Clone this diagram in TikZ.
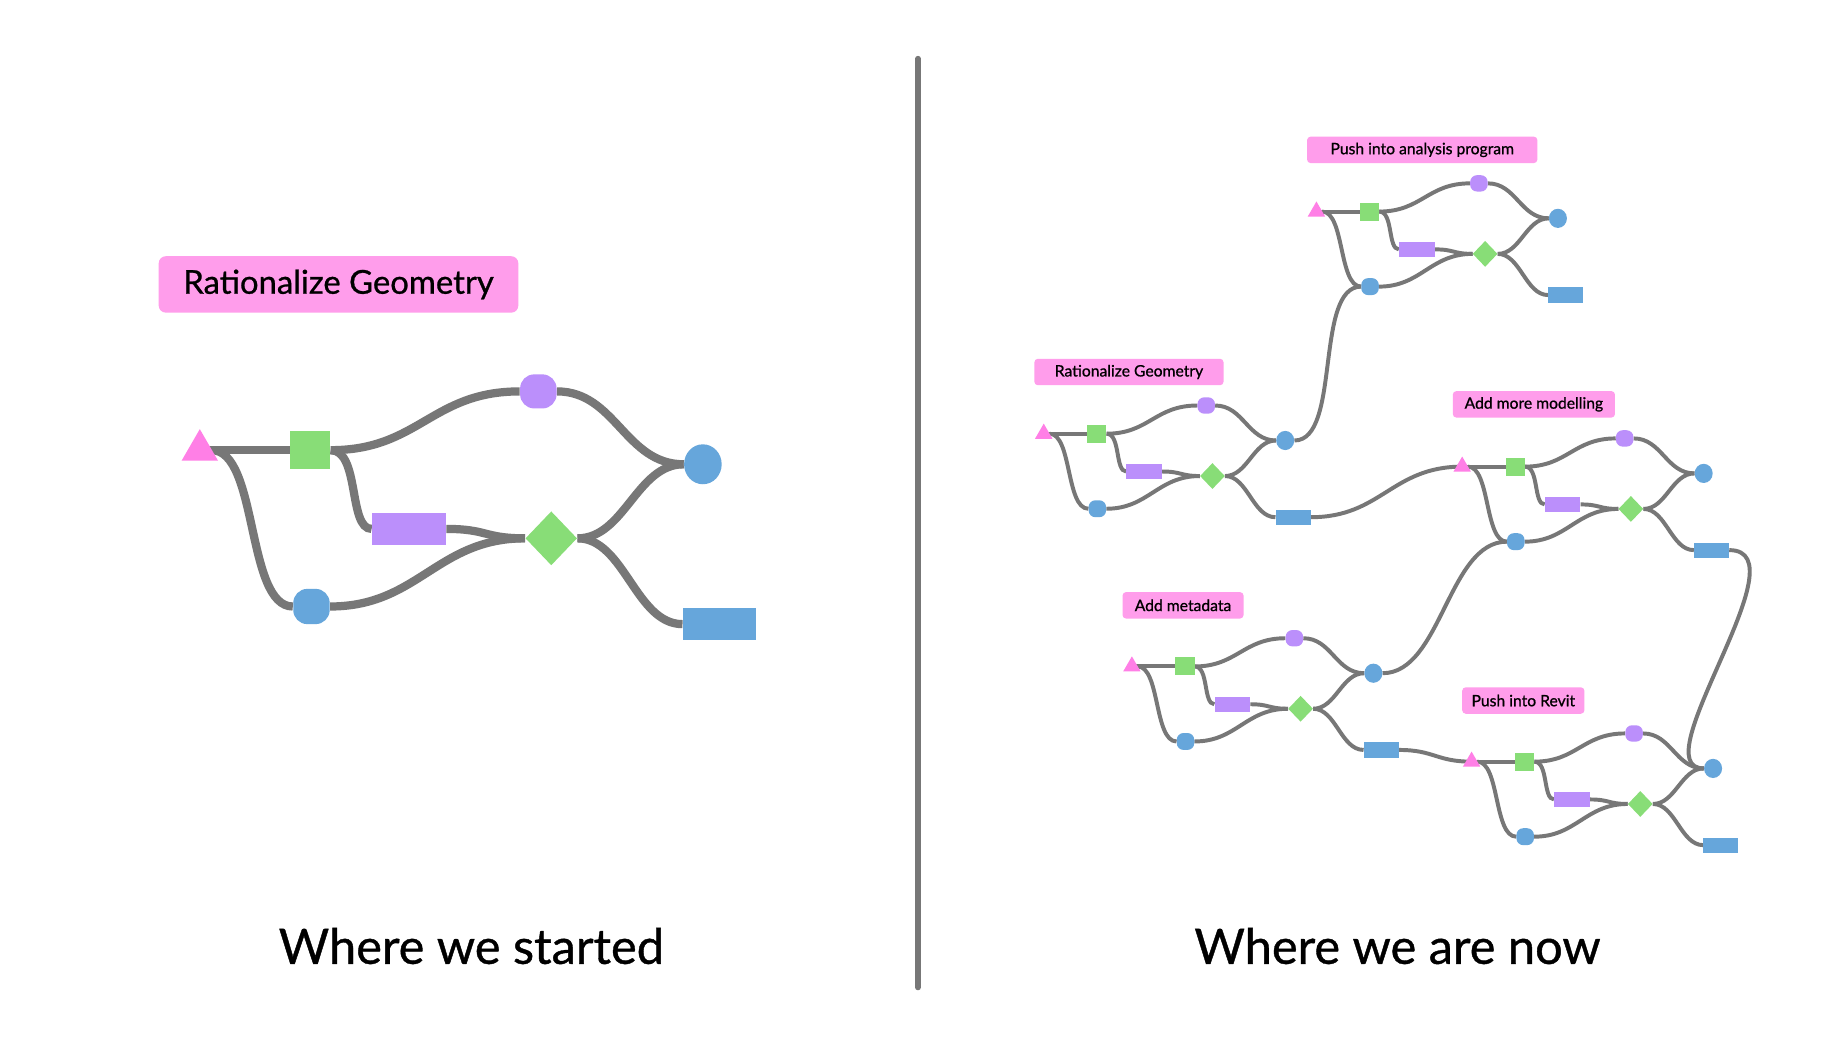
\documentclass[tikz,border=0pt]{standalone}
\usepackage{fontspec}
\setmainfont{Lato}[FakeBold=0.8]
\usetikzlibrary{shapes.geometric}
\definecolor{wirec}{HTML}{777777}
\definecolor{pinkc}{HTML}{FF9DEB}
\definecolor{tric}{HTML}{FF7FE6}
\definecolor{greenc}{HTML}{88DD77}
\definecolor{purplec}{HTML}{BB8FFB}
\definecolor{bluec}{HTML}{66A6DB}
\pgfdeclarelayer{bg}
\pgfdeclarelayer{edges}
\pgfsetlayers{bg,edges,main}
\tikzset{
  wire/.style={draw=wirec},
  tri/.style={regular polygon, regular polygon sides=3, fill=tric, minimum size=0.716cm, inner sep=0pt, outer sep=0pt},
  sqn/.style={rectangle, fill=greenc, minimum width=0.68cm, minimum height=0.64cm, inner sep=0pt},
  ptop/.style={rectangle, fill=purplec, minimum width=0.62cm, minimum height=0.58cm, inner sep=0pt},
  circn/.style={ellipse, fill=bluec, minimum width=0.64cm, minimum height=0.68cm, inner sep=0pt},
  prect/.style={rectangle, fill=purplec, minimum width=1.26cm, minimum height=0.54cm, inner sep=0pt},
  dian/.style={diamond, fill=greenc, minimum width=0.88cm, minimum height=0.92cm, inner sep=0pt},
  bblue/.style={rectangle, fill=bluec, minimum width=0.62cm, minimum height=0.60cm, inner sep=0pt},
  brect/.style={rectangle, fill=bluec, minimum width=1.24cm, minimum height=0.54cm, inner sep=0pt},
  biglabel/.style={fill=pinkc, rounded corners=0.12cm, minimum width=6.12cm, minimum height=0.96cm, inner sep=0pt, font=\fontsize{15.9}{18}\selectfont},
  smalllabel/.style={fill=pinkc, rounded corners=0.06cm, minimum height=0.45cm, inner sep=0pt, font=\fontsize{7.6}{9}\selectfont},
  titletext/.style={anchor=base, inner sep=0pt, font=\fontsize{23.6}{28}\selectfont},
}
\newcommand{\flowgraph}[4]{%
\pgfmathsetlengthmacro{\flowrc}{#4*0.24cm}%
\begin{scope}[shift={(#2,#3)}, scale=#4, transform shape, name prefix=#1-]
  \node[tri] (t) at (0,0) {};
  \node[sqn] (s) at (94,0) {};
  \node[ptop, rounded corners=\flowrc] (p) at (288,-50) {};
  \node[circn] (c) at (428,12) {};
  \node[prect] (r) at (178,67) {};
  \node[dian] (d) at (299,75) {};
  \node[bblue, rounded corners=\flowrc] (b) at (95,133) {};
  \node[brect] (q) at (442,148) {};
  \begin{pgfonlayer}{edges}
    \draw[wire, line width=#4*0.14cm] (t.center) -- (s.center);
    \draw[wire, line width=#4*0.14cm] (t.center) ++(10,0) .. controls +(40,0) and +(-40,0) .. (b.west);
    \draw[wire, line width=#4*0.14cm] (s.east) .. controls +(75,0) and +(-75,0) .. (p.west);
    \draw[wire, line width=#4*0.14cm] (s.east) .. controls +(25,0) and +(-20,0) .. (r.west);
    \draw[wire, line width=#4*0.14cm] (p.east) .. controls +(50,0) and +(-50,0) .. (c.west);
    \draw[wire, line width=#4*0.14cm] (r.east) .. controls +(35,0) and +(-35,0) .. (d.west);
    \draw[wire, line width=#4*0.14cm] (b.east) .. controls +(75,0) and +(-75,0) .. (d.west);
    \draw[wire, line width=#4*0.14cm] (d.east) .. controls +(40,0) and +(-40,0) .. (c.west);
    \draw[wire, line width=#4*0.14cm] (d.east) .. controls +(40,0) and +(-40,0) .. (q.west);
  \end{pgfonlayer}
\end{scope}}
\begin{document}
\begin{tikzpicture}[x=0.02cm, y=-0.02cm]
  \begin{pgfonlayer}{bg}
    \fill[white] (0,0) rectangle (1568,892);
  \end{pgfonlayer}
  \useasboundingbox (0,0) rectangle (1568,892);

  % left side
  \node[biglabel] (lrg) at (288,242) {Rationalize Geometry};
  \flowgraph{L}{170}{383}{1}

  % divider
  \draw[wirec, line width=0.1cm, line cap=round] (781,50) -- (781,840);

  % right side
  \flowgraph{pa}{1120}{180}{0.48}
  \flowgraph{rg}{888}{369}{0.48}
  \flowgraph{am}{1244}{397}{0.48}
  \flowgraph{md}{963}{567}{0.48}
  \flowgraph{pr}{1252}{648}{0.48}

  \node[smalllabel, minimum width=3.92cm] (lpa) at (1210,127.5) {Push into analysis program};
  \node[smalllabel, minimum width=3.22cm] (lrg2) at (960.5,316.5) {Rationalize Geometry};
  \node[smalllabel, minimum width=2.76cm] (lam) at (1305,344) {Add more modelling};
  \node[smalllabel, minimum width=2.06cm] (lmd) at (1006.5,515) {Add metadata};
  \node[smalllabel, minimum width=2.08cm] (lpr) at (1296,596) {Push into Revit};

  \begin{pgfonlayer}{edges}
    \draw[wire, line width=0.0672cm] (rg-c.east) .. controls +(40,0) and +(-40,0) .. (pa-b.west);
    \draw[wire, line width=0.0672cm] (rg-q.east) .. controls +(60,0) and +(-60,0) .. (am-t.center);
    \draw[wire, line width=0.0672cm] (am-q.east) .. controls +(65,0) and +(-55,0) .. (pr-c.west);
    \draw[wire, line width=0.0672cm] (md-c.east) .. controls +(50,0) and +(-50,0) .. (am-b.west);
    \draw[wire, line width=0.0672cm] (md-q.east) .. controls +(30,0) and +(-30,0) .. (pr-t.center);
  \end{pgfonlayer}

  \node[titletext] (ws) at (401,820) {Where we started};
  \node[titletext] (wn) at (1189,820) {Where we are now};
\end{tikzpicture}
\end{document}
